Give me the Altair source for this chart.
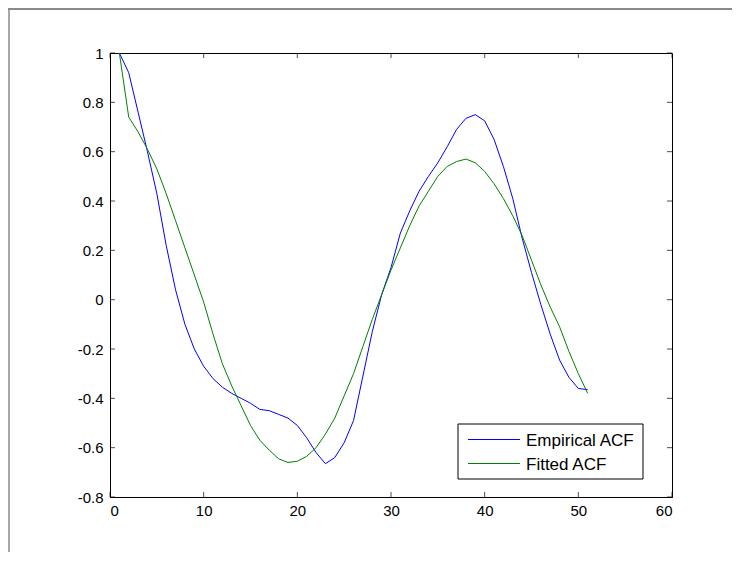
import altair as alt
import pandas as pd

lags = list(range(1, 52))
empirical = [1.0, 0.92, 0.76, 0.60, 0.43, 0.22, 0.04, -0.10, -0.20, -0.27,
             -0.32, -0.355, -0.38, -0.40, -0.42, -0.445, -0.45, -0.465, -0.48, -0.51,
             -0.56, -0.62, -0.665, -0.64, -0.58, -0.49, -0.31, -0.13, 0.02, 0.13,
             0.27, 0.36, 0.44, 0.50, 0.555, 0.62, 0.69, 0.735, 0.75, 0.725,
             0.65, 0.54, 0.41, 0.25, 0.11, -0.02, -0.14, -0.245, -0.315, -0.36,
             -0.365]
fitted = [1.0, 0.74, 0.68, 0.61, 0.53, 0.43, 0.32, 0.21, 0.10, -0.01,
          -0.14, -0.26, -0.35, -0.43, -0.51, -0.57, -0.61, -0.645, -0.66, -0.655,
          -0.635, -0.60, -0.545, -0.48, -0.39, -0.30, -0.19, -0.08, 0.02, 0.12,
          0.21, 0.30, 0.38, 0.44, 0.50, 0.54, 0.56, 0.57, 0.555, 0.52,
          0.47, 0.41, 0.34, 0.26, 0.16, 0.06, -0.03, -0.11, -0.21, -0.30,
          -0.38]
series_names = ["Empirical ACF", "Fitted ACF"]
series_colors = ["#0000ff", "#008000"]
x_ticks = [0, 10, 20, 30, 40, 50, 60]
y_ticks = [-0.8, -0.6, -0.4, -0.2, 0, 0.2, 0.4, 0.6, 0.8, 1]

W, H = 562, 444
FONT = "Liberation Sans"

df = pd.DataFrame({
    "lag": lags * 2,
    "acf": empirical + fitted,
    "series": [series_names[0]] * len(lags) + [series_names[1]] * len(lags),
})
xt = pd.DataFrame({"v": x_ticks})
yt = pd.DataFrame({"v": y_ticks})

xscale = alt.Scale(domain=[0, 60], nice=False, zero=False)
yscale = alt.Scale(domain=[-0.8, 1], nice=False, zero=False)
xaxis = alt.Axis(values=x_ticks, title=None, tickSize=0, labelPadding=6,
                 grid=False, domainColor="black", labelFontSize=15,
                 labelFont=FONT, labelColor="black")
yaxis = alt.Axis(values=y_ticks, title=None, tickSize=0, labelPadding=7,
                 grid=False, domainColor="black", labelFontSize=15,
                 labelFont=FONT, labelColor="black", format=".1~f",
                 labelExpr="replace(datum.label, '\u2212', '-')")

lines = alt.Chart(df).mark_line(strokeWidth=1, clip=True).encode(
    x=alt.X("lag:Q", scale=xscale, axis=xaxis),
    y=alt.Y("acf:Q", scale=yscale, axis=yaxis),
    color=alt.Color("series:N",
                    scale=alt.Scale(domain=series_names, range=series_colors),
                    legend=None),
)

tick_len = 5
xb = alt.Chart(xt).mark_tick(color="black", thickness=1, size=tick_len).encode(
    x=alt.X("v:Q", scale=xscale, axis=xaxis), y=alt.value(H - tick_len / 2))
xtop = alt.Chart(xt).mark_tick(color="black", thickness=1, size=tick_len).encode(
    x=alt.X("v:Q", scale=xscale, axis=xaxis), y=alt.value(tick_len / 2))
yl = alt.Chart(yt).mark_tick(color="black", thickness=1, size=tick_len).encode(
    y=alt.Y("v:Q", scale=yscale, axis=yaxis), x=alt.value(tick_len / 2))
yr = alt.Chart(yt).mark_tick(color="black", thickness=1, size=tick_len).encode(
    y=alt.Y("v:Q", scale=yscale, axis=yaxis), x=alt.value(W - tick_len / 2))

# figure window frame (decoration, at the edge of the drawing)
one = pd.DataFrame({"k": [0]})
frame_top = alt.Chart(one).mark_rule(color="#8a8a8a", strokeWidth=2).encode(
    x=alt.value(-102), x2=alt.value(W + 60), y=alt.value(-44))
frame_left = alt.Chart(one).mark_rule(color="#8a8a8a", strokeWidth=1.5).encode(
    x=alt.value(-101), y=alt.value(-45), y2=alt.value(H + 55))

# legend box drawn by hand
LX, LY, LW, LHt = 348, 371, 185, 55
legend_layers = [
    alt.Chart(one).mark_rect(fill="white", stroke="black", strokeWidth=1).encode(
        x=alt.value(LX), x2=alt.value(LX + LW), y=alt.value(LY), y2=alt.value(LY + LHt))
]
for i, (name, colr) in enumerate(zip(series_names, series_colors)):
    row = pd.DataFrame({"name": [name]})
    yy = LY + 15.5 + 24 * i
    legend_layers.append(
        alt.Chart(row).mark_rule(color=colr, strokeWidth=1).encode(
            x=alt.value(LX + 10), x2=alt.value(LX + 62), y=alt.value(yy)))
    legend_layers.append(
        alt.Chart(row).mark_text(align="left", baseline="middle", fontSize=17,
                                 font=FONT, color="black").encode(
            text="name:N", x=alt.value(LX + 68), y=alt.value(yy + 1)))

chart = alt.layer(frame_top, frame_left, lines, xb, xtop, yl, yr, *legend_layers).properties(
    width=W, height=H,
    autosize=alt.AutoSizeParams(type="none"),
    padding={"left": 102, "top": 45, "right": 60, "bottom": 55},
).configure(background="white").configure_view(stroke="black", strokeWidth=1)

chart.save("out.html", embed_options={"renderer": "svg", "actions": False})
